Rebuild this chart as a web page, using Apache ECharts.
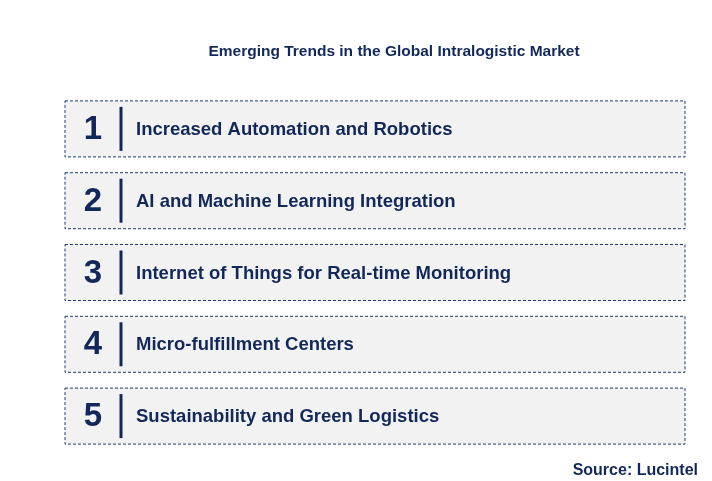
<!DOCTYPE html>
<html><head><meta charset="utf-8">
<script src="https://cdn.jsdelivr.net/npm/echarts@6/dist/echarts.min.js"></script>
<style>html,body{margin:0;padding:0;background:#fff}#c{width:712px;height:481px}</style>
</head><body><div id="c"></div>
<script>
var ranks = ['1', '2', '3', '4', '5'];
var trends = [
  'Increased Automation and Robotics',
  'AI and Machine Learning Integration',
  'Internet of Things for Real-time Monitoring',
  'Micro-fulfillment Centers',
  'Sustainability and Green Logistics'
];
var navy = '#12285a';
var chart = echarts.init(document.getElementById('c'));
chart.setOption({
  backgroundColor: '#fff',
  title: [{
    text: 'Emerging Trends in the Global Intralogistic Market',
    left: 389, top: 39, textAlign: 'center',
    textStyle: {fontFamily: 'Arial', fontSize: 15.5, fontWeight: 'bold', color: navy}
  }, {
    text: 'Source: Lucintel',
    right: 9, top: 458,
    textStyle: {fontFamily: 'Arial', fontSize: 16, fontWeight: 'bold', color: navy}
  }],
  grid: {left: 65, right: 27, top: 93, height: 359},
  xAxis: {type: 'value', min: 0, max: 1, show: false},
  yAxis: {type: 'category', data: ranks, inverse: true, show: false},
  series: [{
    type: 'custom',
    data: ranks.map(function (r, i) { return [0, i]; }),
    renderItem: function (params, api) {
      var i = api.value(1);
      var p0 = api.coord([0, i]);
      var p1 = api.coord([1, i]);
      var h = api.size([0, 1])[1] * 0.78;
      var top = p0[1] - h / 2;
      return {
        type: 'group',
        children: [
          {type: 'rect', shape: {x: p0[0], y: top, width: p1[0] - p0[0], height: h},
           style: {fill: '#f2f2f2', stroke: '#1f3a70', lineWidth: 1, lineDash: [3, 2]}},
          {type: 'text', style: {x: p0[0] + 28, y: p0[1] + 1, text: ranks[i], fill: navy,
            font: 'bold 33px Arial', align: 'center', verticalAlign: 'middle'}},
          {type: 'line', shape: {x1: p0[0] + 56, y1: top + 6, x2: p0[0] + 56, y2: top + h - 6},
           style: {stroke: navy, lineWidth: 3}},
          {type: 'text', style: {x: p0[0] + 71, y: p0[1] + 1, text: trends[i], fill: navy,
            font: 'bold 18.5px Arial', align: 'left', verticalAlign: 'middle'}}
        ]
      };
    }
  }]
});
</script></body></html>
